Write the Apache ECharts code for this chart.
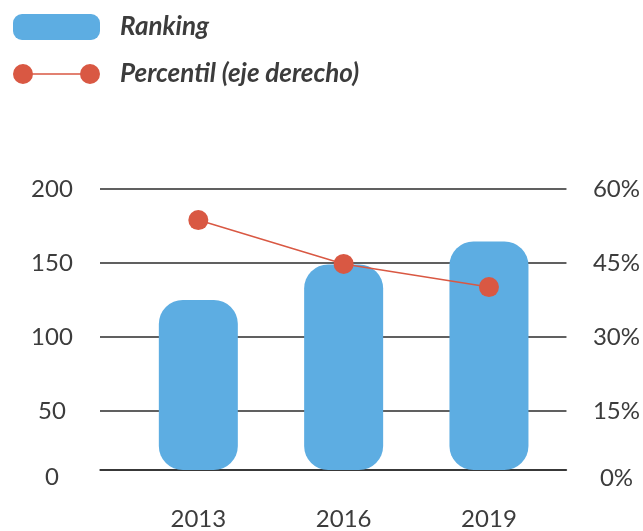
<!DOCTYPE html>
<html>
<head>
    <meta charset="utf-8">
    <title>Ranking y percentil</title>
    <script src="https://cdn.jsdelivr.net/npm/echarts@6/dist/echarts.min.js"></script>
    <style>
        html, body { margin: 0; padding: 0; background: #fff; }
    </style>
</head>
<body>
    <div id="main" style="width:643px;height:531px;"></div>
    <script type="text/javascript">
        // datos
        var years = [2013, 2016, 2019];
        var ranking = [125, 149, 164.5];
        var percentil = [53.7, 44.8, 40.1];
        var leftTicks = [10, 50, 100, 150, 200];   // la linea base se rotula como 0
        var rightTicks = [3, 15, 30, 45, 60];

        var blue = '#5dade2';
        var red = '#d95843';
        var ink = '#3c3c3c';
        var font = 'Lato, "Open Sans", sans-serif';

        // iconos de la leyenda
        var barIcon = 'path://M9,0H78A9,9 0 0,1 87,9V17A9,9 0 0,1 78,26H9A9,9 0 0,1 0,17V9A9,9 0 0,1 9,0Z';
        var lineIcon = 'path://M0,10A10,10 0 1,1 20,10A10,10 0 1,1 0,10Z' +
            'M67,10A10,10 0 1,1 87,10A10,10 0 1,1 67,10Z' +
            'M19,9.2L68,9.2L68,10.8L19,10.8Z';

        var myChart = echarts.init(document.getElementById('main'));
        myChart.setOption({
            animation: false,
            textStyle: { fontFamily: font },
            legend: {
                orient: 'vertical',
                left: 8,
                top: 9,
                itemWidth: 87,
                itemHeight: 26,
                itemGap: 21,
                symbolKeepAspect: true,
                textStyle: {
                    fontFamily: font,
                    fontSize: 26,
                    fontStyle: 'italic',
                    fontWeight: 'bold',
                    color: ink,
                    padding: [0, 0, 0, 15]
                },
                data: [
                    { name: 'Ranking', icon: barIcon },
                    { name: 'Percentil (eje derecho)', icon: lineIcon }
                ]
            },
            grid: { left: 100, right: 76, top: 189, bottom: 57 },
            xAxis: {
                type: 'value',
                min: 2010.97,
                max: 2020.6,
                splitLine: { show: false },
                axisTick: { show: false, customValues: years },
                axisLine: { show: true, lineStyle: { color: '#2b2b2b', width: 1.5 } },
                axisLabel: {
                    customValues: years,
                    formatter: function (v) { return String(v); },
                    fontSize: 24,
                    color: ink,
                    margin: 37
                }
            },
            yAxis: [
                {
                    type: 'value',
                    min: 10,
                    max: 200,
                    axisLine: { show: false },
                    axisTick: { show: false, customValues: leftTicks },
                    splitLine: { show: true, lineStyle: { color: '#2b2b2b', width: 1.5 } },
                    axisLabel: {
                        customValues: leftTicks,
                        fontSize: 24,
                        color: ink,
                        align: 'center',
                        margin: 48,
                        formatter: function (v) { return v === 10 ? '{z|0}' : String(v); },
                        rich: { z: { fontSize: 24, color: ink, padding: [14, 0, 0, 0] } }
                    }
                },
                {
                    type: 'value',
                    min: 3,
                    max: 60,
                    position: 'right',
                    axisLine: { show: false },
                    axisTick: { show: false, customValues: rightTicks },
                    splitLine: { show: false },
                    axisLabel: {
                        customValues: rightTicks,
                        fontSize: 24,
                        color: ink,
                        align: 'center',
                        margin: 50,
                        formatter: function (v) { return v === 3 ? '{z|0%}' : v + '%'; },
                        rich: { z: { fontSize: 24, color: ink, padding: [16, 0, 0, 0] } }
                    }
                }
            ],
            series: [
                {
                    name: 'Ranking',
                    type: 'bar',
                    barWidth: 79,
                    itemStyle: { color: blue, borderRadius: 24 },
                    data: years.map(function (y, i) { return [y, ranking[i]]; })
                },
                {
                    name: 'Percentil (eje derecho)',
                    type: 'line',
                    yAxisIndex: 1,
                    symbol: 'circle',
                    symbolSize: 20,
                    lineStyle: { color: red, width: 1.5 },
                    itemStyle: { color: red },
                    data: years.map(function (y, i) { return [y, percentil[i]]; })
                }
            ]
        });
    </script>
</body>
</html>
